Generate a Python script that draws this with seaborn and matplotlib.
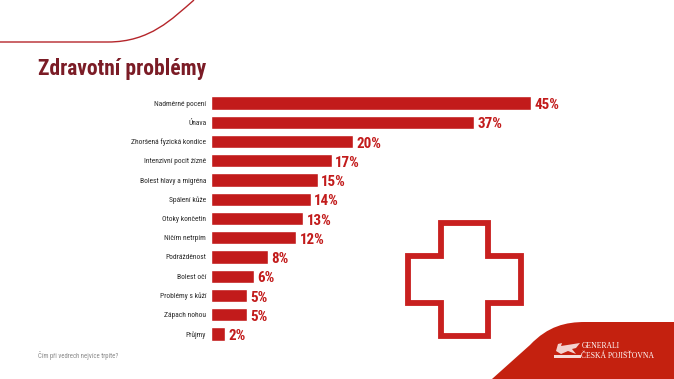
import matplotlib
matplotlib.use("Agg")
import matplotlib.pyplot as plt
from matplotlib.patches import Polygon, PathPatch, Rectangle
from matplotlib.path import Path
import pandas as pd
import seaborn as sns

# data
problems = ["Nadměrné pocení", "Únava", "Zhoršená fyzická kondice", "Intenzivní pocit žízně",
            "Bolest hlavy a migréna", "Spálení kůže", "Otoky končetin", "Ničím netrpím",
            "Podrážděnost", "Bolest očí", "Problémy s kůží", "Zápach nohou", "Průjmy"]
shares = [45, 37, 20, 17, 15, 14, 13, 12, 8, 6, 5, 5, 2]
title = "Zdravotní problémy"
note = "Čím při vedrech nejvíce trpíte?"
logo_lines = ["GENERALI", "ČESKÁ POJIŠŤOVNA"]

RED = "#c21b1b"
DARK = "#7b1c26"
W, H = 674, 379

sns.set_theme(style="white")
plt.rcParams["font.family"] = ["Roboto Condensed", "Liberation Sans", "DejaVu Sans"]

df = pd.DataFrame({"problem": problems, "share": shares})

fig = plt.figure(figsize=(W / 100, H / 100), dpi=100, facecolor="white")

# background layer in pixel coordinates
bg = fig.add_axes([0, 0, 1, 1])
bg.set_xlim(0, W)
bg.set_ylim(H, 0)
bg.axis("off")

# thin curve top left
curve = Path([(0, 42), (108, 42), (150, 42), (172, 19), (194, 0)],
             [Path.MOVETO, Path.LINETO, Path.CURVE4, Path.CURVE4, Path.CURVE4])
bg.add_patch(PathPatch(curve, fc="none", ec="#b5262b", lw=1.0))

# red corner
corner = Path([(492, 379), (530, 345), (548, 326), (566, 322), (585, 322), (674, 322), (674, 379), (492, 379)],
              [Path.MOVETO, Path.LINETO, Path.CURVE4, Path.CURVE4, Path.CURVE4, Path.LINETO, Path.LINETO, Path.CLOSEPOLY])
bg.add_patch(PathPatch(corner, fc="#c4210f", ec="none"))

# cross outline
cross = [(440.5, 222.5), (488, 222.5), (488, 255.5), (521, 255.5), (521, 303), (488, 303),
         (488, 336), (440.5, 336), (440.5, 303), (407.5, 303), (407.5, 255.5), (440.5, 255.5)]
bg.add_patch(Polygon(cross, closed=True, fc="none", ec="#c8201f", lw=4.2, joinstyle="miter"))

# logo
lion = [(556, 351), (558, 344), (562, 343), (561, 346), (580, 343), (576, 348), (572, 349), (576, 354), (568, 351), (561, 354)]
bg.add_patch(Polygon(lion, closed=True, fc="white", ec="none", alpha=0.8))
bg.add_patch(Rectangle((554, 355), 27, 2.5, fc="white", ec="none", alpha=0.85))
bg.text(582, 345.5, logo_lines[0], family="Liberation Serif", color="white", fontsize=5.5, va="center")
bg.text(581, 355.5, logo_lines[1], family="Liberation Serif", color="white", fontsize=5.5, va="center")

bg.text(38, 68.5, title, color=DARK, fontsize=15.5, fontweight="bold", va="center")
bg.text(38, 356, note, color="#8a8a8a", fontsize=4.9, va="center")

# bars
ax = fig.add_axes([211 / W, 1 - 343.6 / H, 320 / W, 250.2 / H])
ax.patch.set_alpha(0)
sns.barplot(data=df, x="share", y="problem", color=RED, saturation=1, width=0.68, ax=ax)
ax.set_xlim(0, 45)
ax.set_ylim(12.5, -0.5)
ax.set_xlabel("")
ax.set_ylabel("")
ax.set_xticks([])
ax.tick_params(axis="y", length=0, pad=3.5, labelsize=5.4, labelcolor="#2b2b2b")
sns.despine(ax=ax, left=True, bottom=True)

for i, v in enumerate(shares):
    ax.annotate(f"{v}%", (v, i), xytext=(2.5, -1.5), textcoords="offset points",
                color=RED, fontsize=10.8, fontweight="bold", va="center", annotation_clip=False)

fig.savefig("out.png", dpi=100)
